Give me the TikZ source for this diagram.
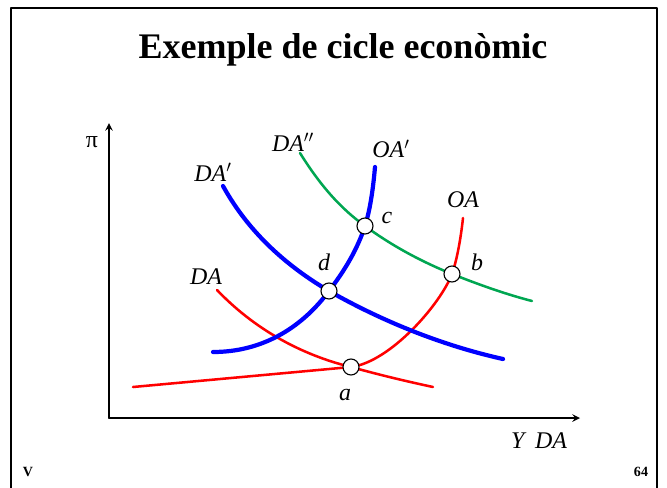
\documentclass[tikz,border=0pt]{standalone}
\usepackage{fontspec}
\setmainfont{Liberation Serif}
\definecolor{dagreen}{RGB}{0,166,81}

\tikzset{
  frameline/.style={line width=1.8pt},
  axisline/.style={line width=1.4pt,->,>=stealth},
  thinred/.style={line width=1.8pt,red},
  thinblue/.style={line width=3pt,blue},
  thingreen/.style={line width=1.8pt,dagreen},
  eqpt/.style={circle,draw,fill=white,line width=0.8pt,inner sep=0pt,minimum size=0.4cm},
  lbl/.style={font=\fontsize{17}{20}\selectfont\itshape,inner sep=1pt},
}

\begin{document}
\begin{tikzpicture}[x=0.025cm,y=-0.025cm,line cap=round,line join=round]
  \useasboundingbox (0,0) rectangle (667,488);
  % frame and title
  \draw[frameline] (11,495) -- (11,8) -- (657,8) -- (657,495);
  \node (title) at (343,50) {\fontsize{25.6}{30}\selectfont\bfseries Exemple de cicle econòmic};
  % axes
  \coordinate (O) at (109,418);
  \coordinate (ytop) at (109,123);
  \coordinate (xend) at (580,418);
  \draw[axisline] (O) -- (ytop);
  \draw[axisline] (O) -- (xend);
  \node[font=\fontsize{17}{20}\selectfont] (pi) at (92,142) {π};
  \node[lbl] (xlab) at (539,441) {Y\hspace{0.45em}DA};
  % equilibria
  \coordinate (a) at (351,367);
  \coordinate (b) at (452,274);
  \coordinate (c) at (365,226);
  \coordinate (d) at (329,291);
  % curves
  \draw[thingreen] (300,153) .. controls (320,185) and (340,208) .. (c)
    .. controls (395,248) and (425,263) .. (b)
    .. controls (480,285) and (505,294) .. (532,301);
  \draw[thinred] (217,290) .. controls (260,335) and (310,357) .. (a)
    .. controls (380,375) and (405,381) .. (433,387);
  \draw[thinred] (133,387) -- (a) .. controls (390,362) and (440,305) .. (b)
    .. controls (457,260) and (461,237) .. (463,218);
  \draw[thinblue] (223,186) .. controls (250,235) and (290,268) .. (d)
    .. controls (380,320) and (440,345) .. (503,359);
  \draw[thinblue] (213,352) .. controls (260,352) and (300,330) .. (d)
    .. controls (345,270) and (357,250) .. (c)
    .. controls (370,210) and (373,190) .. (375,167);
  \node[eqpt] (pa) at (a) {};
  \node[eqpt] (pb) at (b) {};
  \node[eqpt] (pc) at (c) {};
  \node[eqpt] (pd) at (d) {};
  % labels
  \node[lbl] (la) at (345,395) {a};
  \node[lbl] (lb) at (477,262) {b};
  \node[lbl] (lc) at (387,218) {c};
  \node[lbl] (ld) at (324,262) {d};
  \node[lbl] (lda) at (206,277) {DA};
  \node[lbl] (lda1) at (213,172) {DA$'$};
  \node[lbl] (lda2) at (293,142) {DA$''$};
  \node[lbl] (loa1) at (391,149) {OA$'$};
  \node[lbl] (loa) at (463,200) {OA};
  % footer
  \node[font=\fontsize{10}{12}\selectfont\bfseries] (lv) at (28,472) {V};
  \node[font=\fontsize{10}{12}\selectfont\bfseries] (lpage) at (641,472) {64};
\end{tikzpicture}
\end{document}
